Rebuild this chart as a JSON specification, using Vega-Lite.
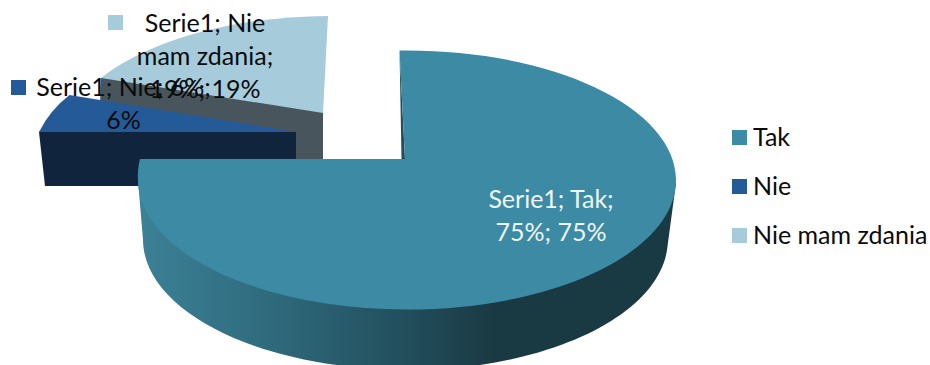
{
"$schema":"https://vega.github.io/schema/vega-lite/v6.json",
"width":930,"height":365,"padding":0,
"autosize":{"type":"fit","contains":"padding"},
"background":"white",
"config":{"view":{"stroke":null}},
"data":{"values":[
{"answer":"Nie mam zdania","value":19,"label":"Serie1; Nie\nmam zdania;\n19%; 19%"},
{"answer":"Nie","value":6,"label":"Serie1; Nie; 6%;\n6%"},
{"answer":"Tak","value":75,"label":"Serie1; Tak;\n75%; 75%"}
]},
"layer":[
{"transform":[{"filter":"datum.answer !== 'Tak'"}],
 "mark":{"type":"point","filled":true,"opacity":1,"strokeWidth":0,"size":4},
 "encoding":{"x":{"value":0},"y":{"value":0},
  "shape":{"field":"answer","type":"nominal","legend":null,"scale":{"domain":["Nie mam zdania","Nie"],"range":["M101 78 L200 60 L323 100 L323 186 L296 186 L296 140 L100 105 Z","M39 132 L100 125 L280 131 L296 132 L296 186 L45 186 Z"]}},
  "fill":{"field":"answer","type":"nominal","legend":null,"scale":{"domain":["Nie mam zdania","Nie"],"range":["#48555c","#10243e"]}}}},
{"transform":[{"filter":"datum.answer === 'Tak'"}],
 "mark":{"type":"point","filled":true,"opacity":1,"strokeWidth":0,"size":4,"shape":"M676 183 L667 250 A262 130 0 0 1 480 365 L337 365 A262 130 0 0 1 143 240 L138 180 L300 170 L500 170 Z M399.5 50 L401.5 159 L405 159 Z",
  "fill":{"gradient":"linear","x1":0,"x2":1,"y1":0,"y2":0,"stops":[{"offset":0,"color":"#3c8197"},{"offset":0.25,"color":"#2f6a7c"},{"offset":0.52,"color":"#214b59"},{"offset":0.66,"color":"#1a3a43"},{"offset":1,"color":"#1a3a43"}]}},
 "encoding":{"x":{"value":0},"y":{"value":0}}},
{"mark":{"type":"point","filled":true,"opacity":1,"strokeWidth":0,"size":4},
 "encoding":{"x":{"value":0},"y":{"value":0},
  "shape":{"field":"answer","type":"nominal","legend":null,"scale":{"domain":["Tak","Nie","Nie mam zdania"],"range":["M405 159 L399.5 50.5 A269 129.5 0 0 1 676 180 A269 129.5 0 0 1 407 309.5 A269 129.5 0 0 1 138 180 A269 129.5 0 0 1 140 159 Z","M296 132 L69.5 95 Q50 110 39 132 Z","M323 113 L328 16 A270 130 0 0 0 101 78 Z"]}},
  "fill":{"field":"answer","type":"nominal","legend":null,"scale":{"domain":["Tak","Nie","Nie mam zdania"],"range":["#3c8aa3","#255a98","#a6cbda"]}}}},
{"mark":{"type":"point","filled":true,"opacity":1,"strokeWidth":0,"shape":"square","size":225},
 "encoding":{
  "x":{"field":"value","type":"quantitative","axis":null,"scale":{"domain":[6,19,75],"range":[18.5,115.5,469]}},
  "y":{"field":"value","type":"quantitative","axis":null,"scale":{"domain":[6,19,75],"range":[87.5,22.5,197.5]}},
  "fill":{"field":"answer","type":"nominal","title":null,"scale":{"domain":["Tak","Nie","Nie mam zdania"],"range":["#3c8aa3","#255a98","#a6cbda"]},
   "legend":{"orient":"none","legendX":727,"legendY":125,"padding":0,"symbolType":"square","symbolSize":225,"symbolStrokeWidth":0,"symbolOpacity":1,"labelFont":"Lato","labelFontSize":25,"labelColor":"#0a0a0a","labelOffset":1,"rowPadding":23,"labelLimit":300}}}},
{"mark":{"type":"text","font":"Lato","fontSize":25,"align":"center","baseline":"top","lineBreak":"\n","lineHeight":33},
 "encoding":{
  "text":{"field":"label"},
  "x":{"field":"value","type":"quantitative","axis":null,"scale":{"domain":[6,19,75],"range":[123.5,205,551]}},
  "y":{"field":"value","type":"quantitative","axis":null,"scale":{"domain":[6,19,75],"range":[76,12,188]}},
  "color":{"field":"answer","type":"nominal","legend":null,"scale":{"domain":["Tak","Nie","Nie mam zdania"],"range":["#eef6f9","#0a0a0a","#0a0a0a"]}}}}
],
"resolve":{"scale":{"x":"independent","y":"independent","fill":"independent","shape":"independent","color":"independent"},"legend":{"fill":"independent","shape":"independent","color":"independent"}}
}
